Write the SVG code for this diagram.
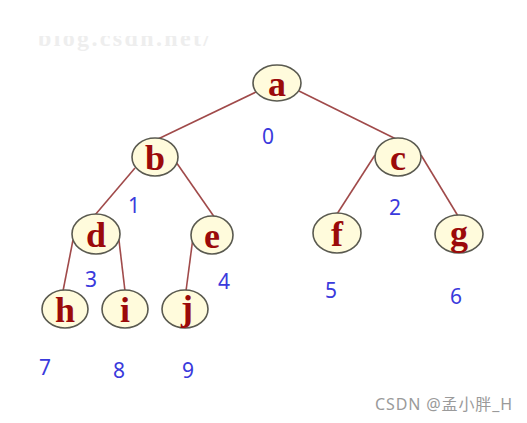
<svg xmlns="http://www.w3.org/2000/svg" width="527" height="423" viewBox="0 0 527 423">
<defs>
<style>
.node ellipse{fill:#fffbdc;stroke:#5a5a50;stroke-width:1.6}
.node text{font-family:"Liberation Serif",serif;font-weight:bold;font-size:36px;fill:#9b0a0a;text-anchor:middle}
.edges line{stroke:#a04a4a;stroke-width:1.6}
.idx{font-family:"Noto Sans","DejaVu Sans",sans-serif;font-size:21px;fill:#3a3adc;text-anchor:middle}
.wm{font-family:"Noto Sans","Noto Sans CJK SC",sans-serif;font-size:16px;fill:#9a9a9a}
</style>
<clipPath id="topclip"><rect x="0" y="36" width="527" height="20"/></clipPath>
</defs>
<rect width="527" height="423" fill="#ffffff"/>
<text x="38" y="46" clip-path="url(#topclip)" font-family="Liberation Serif,serif" font-weight="bold" font-size="24" fill="#eeeeee" textLength="172" lengthAdjust="spacing">blog.csdn.net/</text>
<g class="edges" id="connectors">
<line x1="256" y1="92" x2="158" y2="139"/>
<line x1="299" y1="91" x2="396" y2="139"/>
<line x1="135" y1="168" x2="95" y2="215"/>
<line x1="176" y1="162" x2="215" y2="218"/>
<line x1="375" y1="155" x2="337" y2="214"/>
<line x1="421" y1="155" x2="458" y2="216"/>
<line x1="73" y1="240" x2="63" y2="291"/>
<line x1="118" y1="232" x2="125" y2="291"/>
<line x1="194" y1="230" x2="186" y2="291"/>
</g>
<g class="node" id="a"><ellipse cx="277" cy="83" rx="24" ry="18"/><text x="277" y="96">a</text></g>
<g class="node" id="b"><ellipse cx="155" cy="157" rx="23" ry="19"/><text x="155" y="170">b</text></g>
<g class="node" id="c"><ellipse cx="398" cy="157" rx="23" ry="19"/><text x="398" y="170">c</text></g>
<g class="node" id="d"><ellipse cx="96" cy="234" rx="24" ry="20"/><text x="96" y="247">d</text></g>
<g class="node" id="e"><ellipse cx="212" cy="235" rx="21" ry="19"/><text x="212" y="248">e</text></g>
<g class="node" id="f"><ellipse cx="337" cy="233" rx="24" ry="20"/><text x="337" y="246">f</text></g>
<g class="node" id="g"><ellipse cx="459" cy="234" rx="24" ry="19"/><text x="459" y="245">g</text></g>
<g class="node" id="h"><ellipse cx="65" cy="309" rx="23" ry="19"/><text x="65" y="322">h</text></g>
<g class="node" id="i"><ellipse cx="125" cy="309" rx="23" ry="19"/><text x="125" y="322">i</text></g>
<g class="node" id="j"><ellipse cx="185" cy="309" rx="23" ry="19"/><text x="187" y="320">j</text></g>
<g id="indices">
<text class="idx" x="268" y="144">0</text>
<text class="idx" x="134" y="213">1</text>
<text class="idx" x="395" y="215">2</text>
<text class="idx" x="91" y="287">3</text>
<text class="idx" x="224" y="289">4</text>
<text class="idx" x="331" y="298">5</text>
<text class="idx" x="456" y="304">6</text>
<text class="idx" x="45" y="375">7</text>
<text class="idx" x="119" y="378">8</text>
<text class="idx" x="188" y="378">9</text>
</g>
<text class="wm" x="375" y="410" textLength="137" lengthAdjust="spacing">CSDN @孟小胖_H</text>
</svg>
